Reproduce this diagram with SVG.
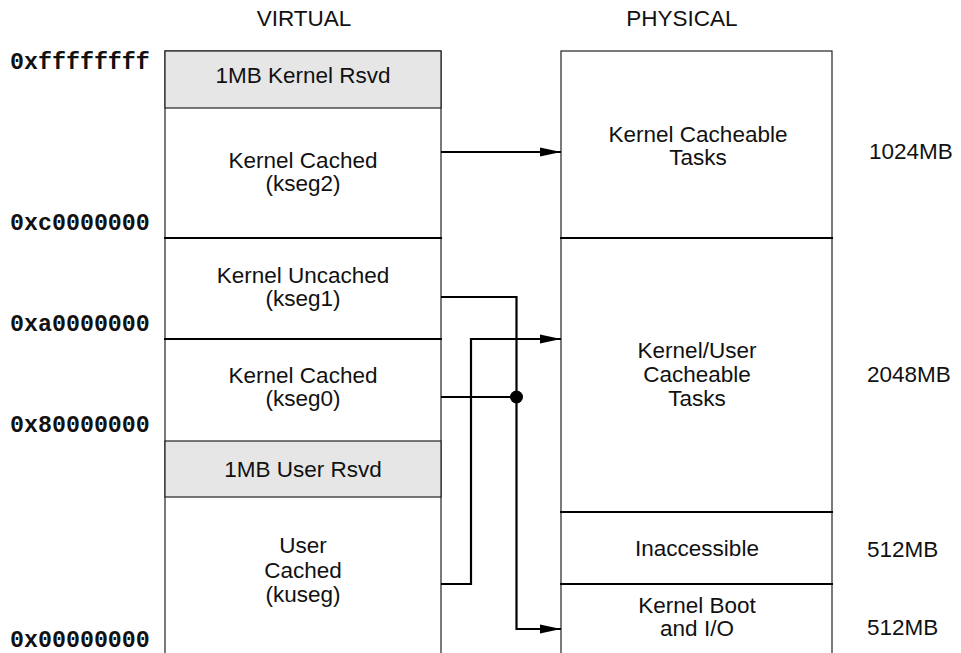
<svg xmlns="http://www.w3.org/2000/svg" width="961" height="653" viewBox="0 0 961 653">
<style>
.t{font-family:"Liberation Sans",Arial,sans-serif;font-size:22.5px;fill:#111;text-anchor:middle}
.s{font-family:"Liberation Sans",Arial,sans-serif;font-size:22.5px;fill:#111}
.m{font-family:"Liberation Mono","Courier New",monospace;font-size:23.3px;font-weight:bold;fill:#111}
.box{fill:#fff;stroke:#222;stroke-width:1.2}
.rsvd{fill:#e6e6e6;stroke:#222;stroke-width:1.2}
.div{stroke:#000;stroke-width:2.2}
.c{fill:none;stroke:#000;stroke-width:2.2}
</style>
<defs>
<marker id="ah" markerWidth="21" markerHeight="10" refX="21" refY="5" orient="auto" markerUnits="userSpaceOnUse">
<path d="M0,0.5 L21,5 L0,9.5 Z" fill="#000"/>
</marker>
</defs>
<rect width="961" height="653" fill="#fff"/>
<text class="t" x="304" y="26">VIRTUAL</text>
<text class="t" x="682" y="26">PHYSICAL</text>
<g id="virtual">
<rect class="box" x="165" y="51" width="276" height="620"/>
<g id="v-krsvd"><rect class="rsvd" x="165" y="51" width="276" height="57"/><text class="t" x="303" y="83">1MB Kernel Rsvd</text></g>
<g id="v-kseg2"><text class="t" x="303" y="168">Kernel Cached</text><text class="t" x="303" y="191">(kseg2)</text></g>
<line class="div" x1="164" y1="238" x2="442" y2="238"/>
<g id="v-kseg1"><text class="t" x="303" y="283">Kernel Uncached</text><text class="t" x="303" y="306">(kseg1)</text></g>
<line class="div" x1="164" y1="339" x2="442" y2="339"/>
<g id="v-kseg0"><text class="t" x="303" y="383">Kernel Cached</text><text class="t" x="303" y="406">(kseg0)</text></g>
<g id="v-ursvd"><rect class="rsvd" x="165" y="441" width="276" height="56"/><text class="t" x="303" y="477">1MB User Rsvd</text></g>
<g id="v-kuseg"><text class="t" x="303" y="553">User</text><text class="t" x="303" y="578">Cached</text><text class="t" x="303" y="602">(kuseg)</text></g>
</g>
<g id="physical">
<rect class="box" x="561" y="51" width="271" height="620"/>
<g id="p-kct"><text class="t" x="698" y="142">Kernel Cacheable</text><text class="t" x="698" y="165">Tasks</text></g>
<line class="div" x1="560" y1="238" x2="833" y2="238"/>
<g id="p-kuct"><text class="t" x="697" y="358">Kernel/User</text><text class="t" x="697" y="382">Cacheable</text><text class="t" x="697" y="406">Tasks</text></g>
<line class="div" x1="560" y1="512" x2="833" y2="512"/>
<g id="p-inacc"><text class="t" x="697" y="556">Inaccessible</text></g>
<line class="div" x1="560" y1="584" x2="833" y2="584"/>
<g id="p-boot"><text class="t" x="697" y="613">Kernel Boot</text><text class="t" x="697" y="636">and I/O</text></g>
</g>
<g id="addresses">
<text class="m" x="10" y="69">0xffffffff</text>
<text class="m" x="10" y="230">0xc0000000</text>
<text class="m" x="10" y="331">0xa0000000</text>
<text class="m" x="10" y="432">0x80000000</text>
<text class="m" x="10" y="647">0x00000000</text>
</g>
<g id="sizes">
<text class="s" x="869" y="159">1024MB</text>
<text class="s" x="867" y="382">2048MB</text>
<text class="s" x="867" y="557">512MB</text>
<text class="s" x="867" y="635">512MB</text>
</g>
<g id="connectors">
<path class="c" d="M441,152 H561" marker-end="url(#ah)"/>
<path class="c" d="M441,297 H516.5 V629 H561" marker-end="url(#ah)"/>
<path class="c" d="M441,584 H471 V339 H561" marker-end="url(#ah)"/>
<path class="c" d="M441,397 H516.5"/>
<circle cx="516.5" cy="397" r="6.5" fill="#000"/>
</g>
</svg>
